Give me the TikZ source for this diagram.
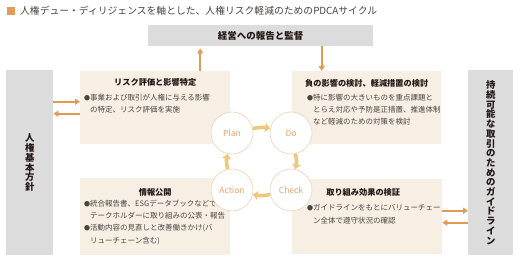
\documentclass[tikz,border=0pt]{standalone}
\usepackage{fontspec}
\setmainfont{Noto Sans CJK JP}
\usetikzlibrary{arrows.meta,positioning,calc}
\definecolor{ink}{HTML}{231815}
\definecolor{bodyink}{HTML}{4A4440}
\definecolor{panelgray}{HTML}{DCDCDC}
\definecolor{panelbeige}{HTML}{F7EFE4}
\definecolor{linkorange}{HTML}{E39A55}
\definecolor{ringline}{HTML}{EDD2B8}
\definecolor{ringtext}{HTML}{E8A46E}
\definecolor{cycgold}{HTML}{EDC87C}
\tikzset{
  >=Latex,
  every node/.style={text=ink,inner sep=0pt},
  gbox/.style={fill=panelgray,draw=none,anchor=north west},
  cbox/.style={fill=panelbeige,draw=none,anchor=north west},
  boxtitle/.style={font=\fontsize{8.2}{10}\selectfont\bfseries},
  bullets/.style={font=\fontsize{7.5}{12.4}\selectfont,align=left,anchor=north west,text=bodyink},
  vtext/.style={font=\fontsize{9.4}{9.7}\selectfont\bfseries,align=center},
  phase/.style={circle,fill=white,draw=ringline,line width=0.6pt,minimum size=42pt,text=ringtext,font=\fontsize{8.5}{10}\selectfont},
  link/.style={-{Triangle[length=5pt,width=6pt]},line width=2pt,draw=linkorange},
  cyc/.style={-{Triangle[length=5pt,width=8.5pt]},line width=3.6pt,draw=cycgold}
}
\newcommand{\bul}{\makebox[6pt][l]{\fontsize{6}{6}\selectfont ●}}
\newcommand{\cont}{\hspace*{6pt}}

\begin{document}
\begin{tikzpicture}[x=1pt,y=-1pt]
  \useasboundingbox (0,0) rectangle (520,259);

  % heading
  \node[fill=linkorange,minimum size=7.5pt] (mark) at (11,11) {};
  \node[right=5pt of mark,font=\fontsize{9.8}{11}\selectfont,text=bodyink] (head) {人権デュー・ディリジェンスを軸とした、人権リスク軽減のためのPDCAサイクル};

  % gray panels
  \node[gbox,minimum width=225pt,minimum height=21pt,font=\fontsize{9.5}{11}\selectfont\bfseries] (board) at (148,25) {経営への報告と監督};
  \node[gbox,vtext,minimum width=47pt,minimum height=185pt] (policy) at (6,70) {人\\権\\基\\本\\方\\針};
  \node[gbox,vtext,minimum width=45pt,minimum height=185pt] (guide) at (468,70) {持\\続\\可\\能\\な\\取\\引\\の\\た\\め\\の\\ガ\\イ\\ド\\ラ\\イ\\ン};

  % PDCA boxes
  \node[cbox,minimum width=150pt,minimum height=73pt] (risk) at (80,71) {};
  \node[cbox,minimum width=149pt,minimum height=73pt] (mitig) at (292,71) {};
  \node[cbox,minimum width=150pt,minimum height=77pt] (disclose) at (80,178) {};
  \node[cbox,minimum width=150pt,minimum height=75pt] (verify) at (292,179) {};

  \node[boxtitle] (riskT) at ($(risk.north)+(0,11)$) {リスク評価と影響特定};
  \node[bullets] (riskB) at (84,94) {\bul 事業および取引が人権に与える影響\\\cont の特定、リスク評価を実施};
  \node[boxtitle] (mitigT) at ($(mitig.north)+(0,12)$) {負の影響の検討、軽減措置の検討};
  \node[bullets] (mitigB) at (307,93.5) {\bul 特に影響の大きいものを重点課題と\\\cont とらえ対応や予防是正措置、推進体制\\\cont など軽減のための対策を検討};
  \node[boxtitle] (discloseT) at ($(disclose.north)+(0,14)$) {情報公開};
  \node[bullets] (discloseB) at (84,199.5) {\bul 統合報告書、ESGデータブックなどでス\\\cont テークホルダーに取り組みの公表・報告\\\bul 活動内容の見直しと改善働きかけ(バ\\\cont リューチェーン含む)};
  \node[boxtitle] (verifyT) at ($(verify.north)+(-4,13)$) {取り組み効果の検証};
  \node[bullets] (verifyB) at (307,204.5) {\bul ガイドラインをもとにバリューチェー\\\cont ン全体で遵守状況の確認};

  % links to panels
  \draw[link,shorten >=2pt] ([xshift=45pt]risk.north) -- ([xshift=45pt]risk.north |- board.south);
  \draw[link] ([xshift=-45pt]mitig.north |- board.south) -- ([xshift=-45pt]mitig.north);
  \draw[link] ([yshift=6pt]policy.east |- risk.center) -- ([yshift=6pt]risk.west);
  \draw[link] ([yshift=-6pt]risk.west) -- ([yshift=-6pt]policy.east |- risk.center);
  \draw[link] ([yshift=6pt]verify.east) -- ([yshift=6pt]verify.east -| guide.west);
  \draw[link] ([yshift=-6pt]verify.east -| guide.west) -- ([yshift=-6pt]verify.east);

  % cycle
  \node[phase] (plan) at (232,133) {Plan};
  \node[phase] (do) at (291,133) {Do};
  \node[phase] (check) at (291,190) {Check};
  \node[phase] (action) at (232,190) {Action};
  \draw[cyc] (plan) to[bend left=12] (do);
  \draw[cyc] (do) to[bend left=12] (check);
  \draw[cyc] (check) to[bend left=12] (action);
  \draw[cyc] (action) to[bend left=12] (plan);
\end{tikzpicture}
\end{document}
